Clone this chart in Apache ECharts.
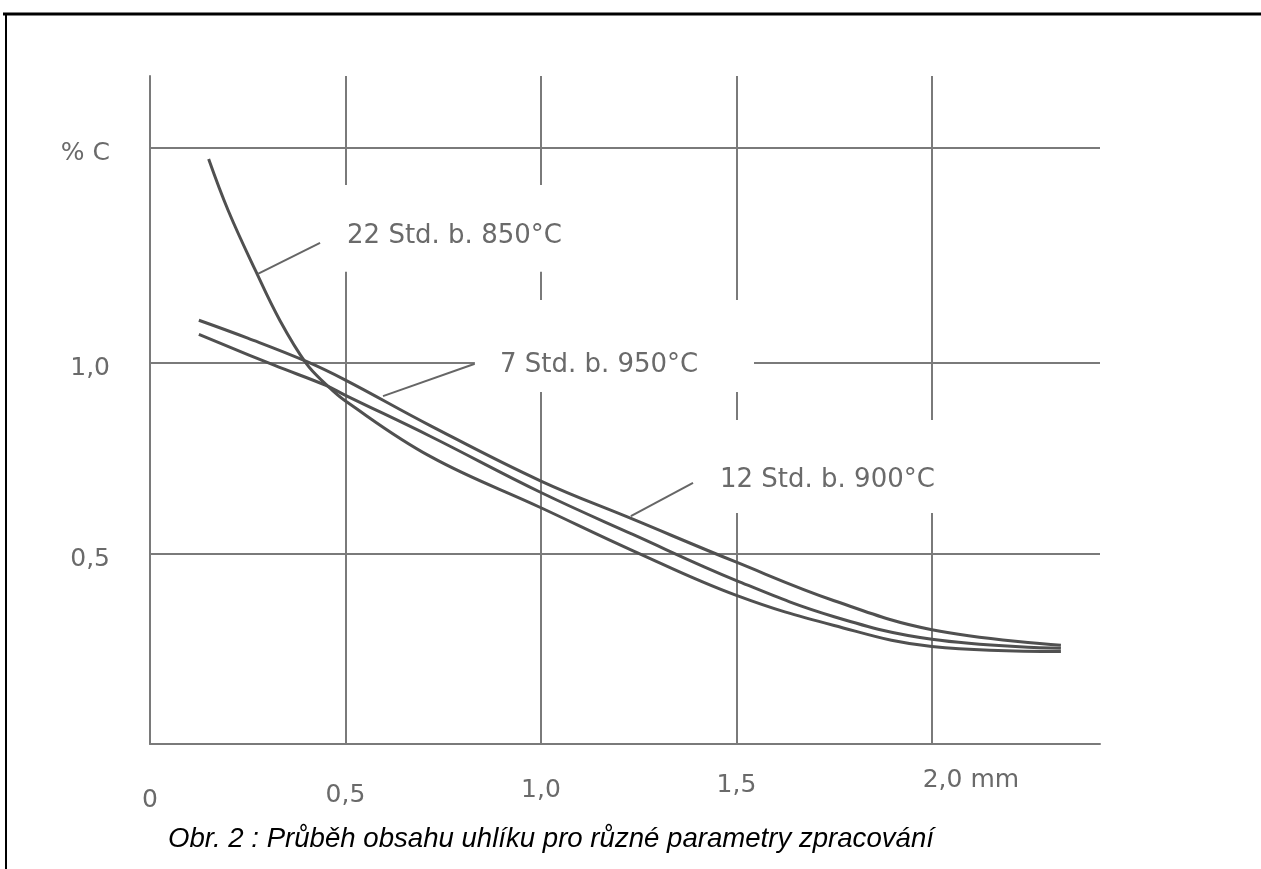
<!DOCTYPE html>
<html>
<head>
<meta charset="utf-8">
<title>Průběh obsahu uhlíku</title>
<script src="https://cdn.jsdelivr.net/npm/echarts@6/dist/echarts.min.js"></script>
<style>
  html, body { margin: 0; padding: 0; background: #fff; }
  #chart { width: 1261px; height: 869px; }
</style>
</head>
<body>
<div id="chart"></div>
<script>
// osa x: hloubka [mm], osa y: obsah uhliku [% C]
var xTicks = [0, 0.5, 1.0, 1.5, 2.0];
var yTicks = [0.5, 1.0, 1.565]; // horni cara nese popis "% C"
var xMax = 2.43;
var yMax = 1.753;

var curveNames = ['22 Std. b. 850°C', '7 Std. b. 950°C', '12 Std. b. 900°C'];
// [hloubka, %C]
var curve850 = [[0.15, 1.535], [0.20, 1.40], [0.27, 1.242], [0.333, 1.11], [0.40, 0.998], [0.45, 0.944],
  [0.5, 0.90], [0.718, 0.754], [1.0, 0.62], [1.24, 0.505], [1.5, 0.39], [1.75, 0.311], [2.0, 0.256], [2.33, 0.243]];
var curve950 = [[0.125, 1.075], [0.3175, 0.994], [0.45, 0.941], [0.5, 0.915], [0.718, 0.807], [1.0, 0.66],
  [1.235, 0.55], [1.5, 0.429], [1.75, 0.334], [2.0, 0.275], [2.33, 0.251]];
var curve900 = [[0.125, 1.112], [0.25, 1.065], [0.40, 1.004], [0.5, 0.955], [0.718, 0.835], [1.0, 0.69],
  [1.235, 0.59], [1.5, 0.477], [1.75, 0.376], [2.0, 0.30], [2.33, 0.259]];

// popisky krivek: bily box [x0, y0, x1, y1] a zacatek textu [x, y] v hodnotach os
var labelBox = [[0.450, 1.467, 1.131, 1.239], [0.831, 1.165, 1.545, 0.924], [1.4375, 0.850, 2.0335, 0.606]];
var labelAt = [[0.504, 1.333], [0.895, 0.995], [1.458, 0.693]];
var leaders = [
  [[0.435, 1.315], [0.276, 1.234]],
  [[0.831, 0.998], [0.596, 0.913]],
  [[1.389, 0.685], [1.230, 0.598]]
];

var gridColor = '#7a7a7a';
var textColor = '#6a6a6a';
var curveColor = '#505050';
// sken je mirne natoceny: popisky osy x stoupaji doprava
var xLabelLine = [60, 50, 40, 30, 20];

function fmt(v) {
  if (v === 0) return '0';
  return v.toFixed(1).replace('.', ',');
}

var mychart = echarts.init(document.getElementById('chart'));

var series = [];
[curve850, curve950, curve900].forEach(function (d, i) {
  series.push({
    name: curveNames[i],
    type: 'line',
    data: d,
    smooth: 0.4,
    symbol: 'none',
    z: 3,
    lineStyle: { color: curveColor, width: 3 }
  });
});
leaders.forEach(function (l) {
  series.push({
    type: 'line',
    data: l,
    symbol: 'none',
    silent: true,
    z: 5,
    lineStyle: { color: '#666', width: 2 }
  });
});

var xRich = {};
xTicks.forEach(function (t, i) {
  xRich['t' + i] = {
    fontFamily: 'DejaVu Sans', fontSize: 25, color: textColor,
    lineHeight: xLabelLine[i],
    padding: t === 2 ? [0, 0, 0, 78] : 0
  };
});

var option = {
  animation: false,
  backgroundColor: '#fff',
  grid: { left: 150, top: 76, width: 950, height: 668 },
  title: {
    text: 'Obr. 2 : Průběh obsahu uhlíku pro různé parametry zpracování',
    left: 163,
    top: 820,
    textStyle: {
      fontFamily: 'Liberation Sans',
      fontStyle: 'italic',
      fontWeight: 'normal',
      fontSize: 27.6,
      color: '#000'
    }
  },
  xAxis: {
    type: 'value',
    min: 0,
    max: xMax,
    axisLine: { show: true, lineStyle: { color: gridColor, width: 2 } },
    axisTick: { show: false, customValues: xTicks },
    splitLine: { show: true, lineStyle: { color: gridColor, width: 2 } },
    axisLabel: {
      customValues: xTicks,
      margin: 26,
      formatter: function (v) {
        var i = xTicks.indexOf(v);
        return '{t' + i + '|' + fmt(v) + (v === 2 ? ' mm' : '') + '}';
      },
      rich: xRich
    }
  },
  yAxis: {
    type: 'value',
    min: 0,
    max: yMax,
    axisLine: { show: true, lineStyle: { color: gridColor, width: 2 } },
    axisTick: { show: false, customValues: yTicks },
    splitLine: { show: true, lineStyle: { color: gridColor, width: 2 } },
    axisLabel: {
      customValues: yTicks,
      margin: 40,
      color: textColor,
      fontFamily: 'DejaVu Sans',
      fontSize: 25,
      verticalAlign: 'top',
      lineHeight: 12,
      formatter: function (v) {
        if (v > 1.5) return '% C';
        return fmt(v);
      }
    }
  },
  series: series
};
mychart.setOption(option);

//ramecek a popisky krivek (bily podklad prerusuje mrizku)
var graphics = [
  { type: 'line', shape: { x1: 3, y1: 14, x2: 1261, y2: 14 }, style: { stroke: '#000', lineWidth: 3 }, z: 100 },
  { type: 'line', shape: { x1: 6, y1: 13, x2: 6, y2: 869 }, style: { stroke: '#000', lineWidth: 2 }, z: 100 }
];
labelBox.forEach(function (b, i) {
  var p0 = mychart.convertToPixel({ gridIndex: 0 }, [b[0], b[1]]);
  var p1 = mychart.convertToPixel({ gridIndex: 0 }, [b[2], b[3]]);
  graphics.push({
    type: 'rect',
    z: 50,
    silent: true,
    shape: { x: p0[0], y: p0[1], width: p1[0] - p0[0], height: p1[1] - p0[1] },
    style: { fill: '#fff' }
  });
  var t = mychart.convertToPixel({ gridIndex: 0 }, labelAt[i]);
  graphics.push({
    type: 'text',
    z: 51,
    silent: true,
    x: t[0],
    y: t[1],
    style: {
      text: curveNames[i],
      fill: textColor,
      font: '26px "DejaVu Sans"',
      align: 'left',
      verticalAlign: 'middle'
    }
  });
});
mychart.setOption({ graphic: graphics });
</script>
</body>
</html>
